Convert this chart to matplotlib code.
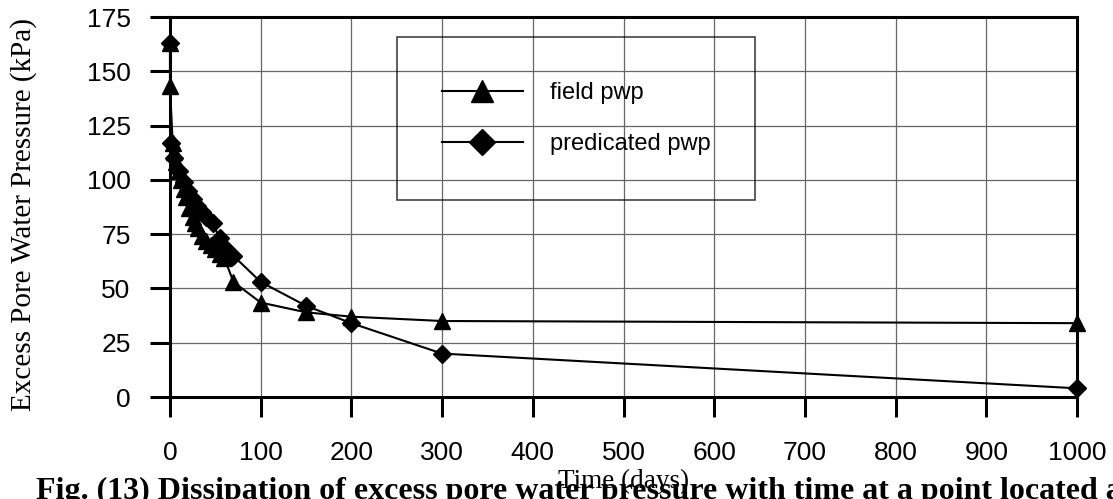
import matplotlib
matplotlib.use("Agg")
import matplotlib.pyplot as plt

# field pore water pressure (triangles)
field_t = [0, 0, 3, 5, 7, 10, 12, 15, 18, 21, 25, 28, 31, 35, 40, 45, 50, 55, 60, 70, 100, 150, 200, 300, 1000]
field_p = [163, 143, 117, 113, 108, 104, 100, 96, 92, 87, 83, 80, 78, 74, 72, 70, 68, 66, 64, 53, 43.5, 39, 37, 35, 34]

# predicated pore water pressure (diamonds)
pred_t = [0, 1, 5, 10, 15, 20, 25, 30, 35, 40, 47, 55, 60, 70, 100, 150, 200, 300, 1000]
pred_p = [163, 117, 110, 104, 99, 95, 91, 88, 85, 83, 80, 73, 69, 65, 53, 42, 34, 20, 4]

x_ticks = list(range(0, 1001, 100))
y_ticks = list(range(0, 176, 25))

sans = "Liberation Sans"
serif = "Liberation Serif"

fig = plt.figure(figsize=(11.13, 4.99), dpi=100)
ax = fig.add_axes([0.1527, 0.2044, 0.815, 0.7615])

ax.plot(field_t, field_p, color="black", lw=1.5, marker="^", ms=11.5,
        label="field pwp", clip_on=False, zorder=3)
ax.plot(pred_t, pred_p, color="black", lw=1.5, marker="D", ms=9.5,
        label="predicated pwp", clip_on=False, zorder=4)

ax.set_xlim(0, 1000)
ax.set_ylim(0, 175)
ax.set_xticks(x_ticks)
ax.set_yticks(y_ticks)
ax.grid(True, color="#666666", lw=0.9)
ax.set_axisbelow(True)

for s in ax.spines.values():
    s.set_linewidth(2.2)
    s.set_color("black")

ax.tick_params(axis="both", direction="out", length=14.4, width=2.2)
ax.tick_params(axis="x", pad=17)
ax.tick_params(axis="y", pad=14)
for lab in ax.get_xticklabels() + ax.get_yticklabels():
    lab.set_fontfamily(sans)
    lab.set_fontsize(19)

leg = ax.legend(loc="upper left", bbox_to_anchor=(0.2503, 0.947), borderaxespad=0,
                prop={"family": sans, "size": 17}, handlelength=3.43, handletextpad=1.14,
                borderpad=1.9, labelspacing=1.23, markerscale=1.4, fancybox=False,
                frameon=True)
leg.get_frame().set_edgecolor("black")
leg.get_frame().set_facecolor("none")
leg.get_frame().set_linewidth(1.1)

fig.text(24 / 1113, 0.570, "Excess Pore Water Pressure (kPa)", rotation=90,
         ha="center", va="center", family=serif, fontsize=21)
fig.text(624 / 1113, 0.022, "Time (days)", ha="center", va="baseline",
         family=serif, fontsize=19.5)
fig.text(36 / 1113, 0.0,
         "Fig. (13) Dissipation of excess pore water pressure with time at a point located at the middle of the clay layer",
         ha="left", va="baseline", family=serif, fontsize=23, fontweight="bold")

fig.savefig("out.png", dpi=100)
